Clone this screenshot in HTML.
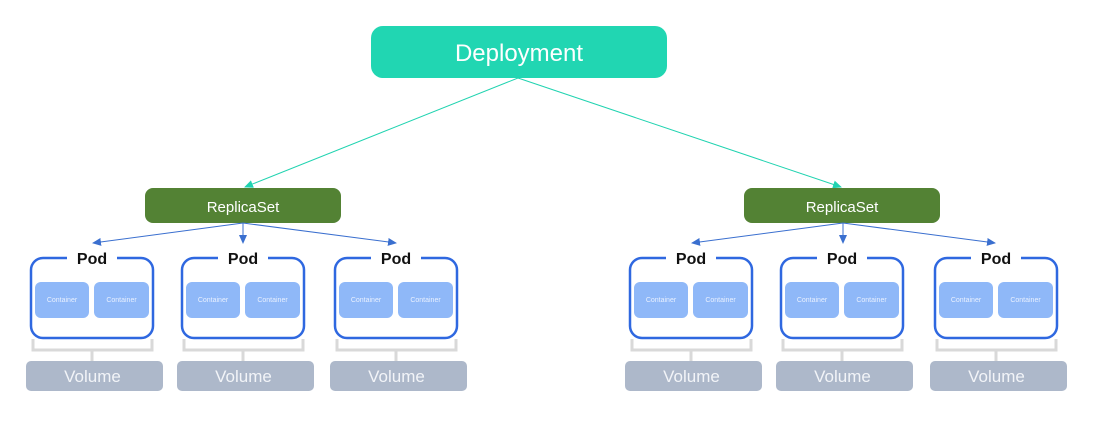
<!DOCTYPE html>
<html><head><meta charset="utf-8"><style>
html,body{margin:0;padding:0;background:#fff;width:1094px;height:433px;overflow:hidden}
svg{display:block;font-family:"Liberation Sans",sans-serif}
</style></head><body>
<svg width="1094" height="433" viewBox="0 0 1094 433">
<defs>
<marker id="ag" markerWidth="10" markerHeight="10" refX="8" refY="5" orient="auto" markerUnits="userSpaceOnUse"><path d="M0,1 L9,5 L0,9 z" fill="#20d3b0"/></marker>
<marker id="ab" markerWidth="10" markerHeight="10" refX="8" refY="5" orient="auto" markerUnits="userSpaceOnUse"><path d="M0,1 L9,5 L0,9 z" fill="#3a6fcf"/></marker>
<g id="pod">
<rect x="0" y="258" width="122" height="80" rx="12" fill="#fff" stroke="#2f68e0" stroke-width="2.5"/>
<rect x="36" y="254" width="50" height="8" fill="#fff"/>
<text x="61" y="264" text-anchor="middle" font-size="16" font-weight="bold" fill="#111">Pod</text>
<rect x="4" y="282" width="54" height="36" rx="6" fill="#8fb8f8"/>
<rect x="63" y="282" width="55" height="36" rx="6" fill="#8fb8f8"/>
<text x="31" y="302" text-anchor="middle" font-size="7" fill="#e8f0ff">Container</text>
<text x="90.5" y="302" text-anchor="middle" font-size="7" fill="#e8f0ff">Container</text>
<path d="M2,339 V350 H121 V339 M61,350 V361" fill="none" stroke="#d9d9d9" stroke-width="3"/>
<rect x="-5" y="361" width="137" height="30" rx="5" fill="#adb8ca"/>
<text x="61.5" y="382" text-anchor="middle" font-size="17" fill="#f2f4f8">Volume</text>
</g>
</defs>
<rect x="371" y="26" width="296" height="52" rx="12" fill="#21d6b2"/>
<text x="519" y="61" text-anchor="middle" font-size="24" fill="#fff">Deployment</text>
<line x1="518" y1="78" x2="245" y2="187" stroke="#20d3b0" stroke-width="1" marker-end="url(#ag)"/>
<line x1="518" y1="78" x2="841" y2="187" stroke="#20d3b0" stroke-width="1" marker-end="url(#ag)"/>
<rect x="145" y="188" width="196" height="35" rx="8" fill="#538234"/>
<text x="243" y="212" text-anchor="middle" font-size="15" fill="#fff">ReplicaSet</text>
<rect x="744" y="188" width="196" height="35" rx="8" fill="#538234"/>
<text x="842" y="212" text-anchor="middle" font-size="15" fill="#fff">ReplicaSet</text>
<g stroke="#3a6fcf" stroke-width="1">
<line x1="243" y1="223" x2="93" y2="243" marker-end="url(#ab)"/>
<line x1="243" y1="223" x2="243" y2="243" marker-end="url(#ab)"/>
<line x1="243" y1="223" x2="396" y2="243" marker-end="url(#ab)"/>
<line x1="843" y1="223" x2="692" y2="243" marker-end="url(#ab)"/>
<line x1="843" y1="223" x2="843" y2="243" marker-end="url(#ab)"/>
<line x1="843" y1="223" x2="995" y2="243" marker-end="url(#ab)"/>
</g>
<use href="#pod" x="31"/>
<use href="#pod" x="182"/>
<use href="#pod" x="335"/>
<use href="#pod" x="630"/>
<use href="#pod" x="781"/>
<use href="#pod" x="935"/>
</svg>
</body></html>
